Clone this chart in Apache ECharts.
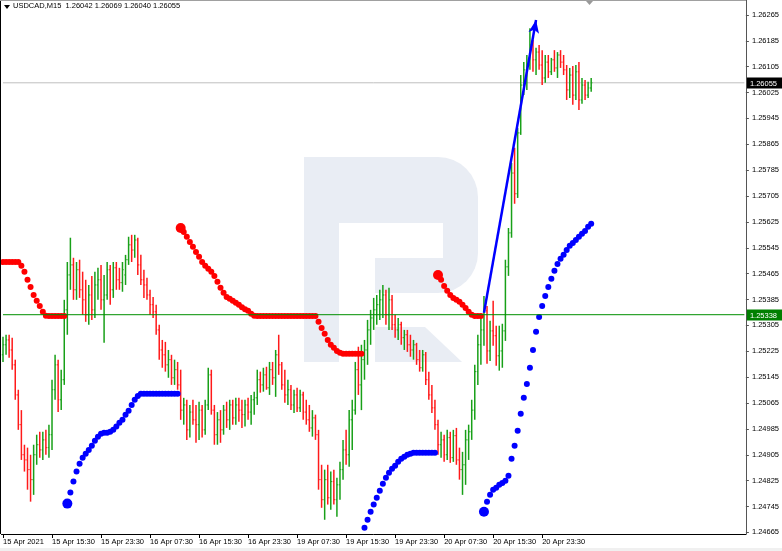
<!DOCTYPE html>
<html><head><meta charset="utf-8">
<script src="https://cdn.jsdelivr.net/npm/echarts/dist/echarts.min.js"></script>
<style>html,body{margin:0;padding:0;background:#fff}#c{width:782px;height:551px}</style>
</head><body><div id="c"></div>
<script>
// ---- data (USDCAD M15, shown as 30-min bars) ----
const tickLabels = ['15 Apr 2021','15 Apr 15:30','15 Apr 23:30','16 Apr 07:30','16 Apr 15:30','16 Apr 23:30','19 Apr 07:30','19 Apr 15:30','19 Apr 23:30','20 Apr 07:30','20 Apr 15:30','20 Apr 23:30'];
const barsPerLabel = 16;
const slotCount = 243;
const priceTicks = [1.24665,1.24745,1.24825,1.24905,1.24985,1.25065,1.25145,1.25225,1.25305,1.25385,1.25465,1.25545,1.25625,1.25705,1.25785,1.25865,1.25945,1.26025,1.26105,1.26185,1.26265];
const yMin = 1.2466, yMax = 1.26311;
const supportLevel = 1.25338;
const lastPrice = 1.26055;
const headerText = 'USDCAD,M15  1.26042 1.26069 1.26040 1.26055';

const opens = [
1.25214,1.25245,1.25260,1.25229,1.25183,1.25090,1.24998,1.24905,1.24889,1.24859,
1.24828,1.24905,1.24936,1.24920,1.24951,1.24927,1.24967,1.25106,1.25183,1.25075,
1.25137,1.25353,1.25461,1.25492,1.25415,1.25477,1.25415,1.25384,1.25338,1.25399,
1.25353,1.25430,1.25446,1.25384,1.25399,1.25477,1.25415,1.25483,1.25446,1.25437,
1.25461,1.25508,1.25554,1.25538,1.25569,1.25492,1.25446,1.25430,1.25399,1.25369,
1.25347,1.25291,1.25229,1.25214,1.25183,1.25199,1.25143,1.25168,1.25121,
1.25043,1.25059,1.24982,1.25037,1.25013,1.24998,1.25043,1.24982,1.25059,1.25152,
1.25043,1.24967,1.25013,1.24982,1.25043,1.25013,1.25059,1.25019,1.25059,1.25043,
1.25029,1.25059,1.25037,1.25075,1.25081,1.25137,1.25121,1.25152,1.25112,1.25168,
1.25143,1.25214,1.25183,1.25121,1.25090,1.25106,1.25059,1.25090,1.25050,
1.25090,1.25037,1.25013,1.24988,1.25019,1.24967,1.24828,1.24766,1.24828,1.24772,
1.24822,1.24766,1.24812,1.24859,1.24920,1.24905,1.25013,1.25043,1.25168,1.25121,
1.25199,1.25229,1.25291,1.25328,1.25353,1.25369,1.25384,1.25399,1.25338,1.25384,
1.25307,1.25291,1.25307,1.25267,1.25276,1.25245,1.25229,1.25245,1.25199,1.25174,
1.25214,1.25137,1.25090,1.25050,1.24998,1.24936,1.24951,1.24905,1.24958,1.24896,
1.24964,1.24889,1.24859,1.24874,1.24951,1.24976,1.25043,1.25162,1.25245,
1.25291,1.25350,1.25226,1.25288,1.25273,1.25211,1.25226,1.25288,1.25486,1.25591,
1.25776,1.25712,1.25900,1.26048,1.26095,1.26110,1.26172,1.26126,1.26150,1.26110,
1.26070,1.26119,1.26089,1.26126,1.26101,1.26141,1.26119,1.26095,1.26033,1.26079,
1.26017,1.26089,1.26002,1.26048,1.26017,1.26039];
const highs = [
1.25270,1.25276,1.25276,1.25267,1.25199,1.25106,1.25043,1.24936,1.24927,1.24905,
1.24936,1.24967,1.24976,1.24976,1.24982,1.24998,1.25137,1.25214,1.25199,1.25168,
1.25384,1.25501,1.25576,1.25514,1.25501,1.25508,1.25471,1.25446,1.25430,1.25458,
1.25471,1.25483,1.25492,1.25461,1.25501,1.25492,1.25501,1.25501,1.25483,1.25501,
1.25523,1.25579,1.25585,1.25585,1.25576,1.25523,1.25477,1.25452,1.25415,1.25393,
1.25369,1.25307,1.25260,1.25254,1.25229,1.25214,1.25199,1.25192,1.25168,
1.25081,1.25075,1.25059,1.25075,1.25059,1.25069,1.25059,1.25075,1.25174,1.25168,
1.25059,1.25037,1.25043,1.25059,1.25069,1.25075,1.25075,1.25081,1.25081,1.25075,
1.25075,1.25081,1.25090,1.25100,1.25168,1.25162,1.25174,1.25177,1.25192,1.25192,
1.25229,1.25276,1.25192,1.25168,1.25137,1.25121,1.25106,1.25112,1.25106,
1.25100,1.25075,1.25059,1.25043,1.25029,1.24982,1.24874,1.24859,1.24874,1.24853,
1.24859,1.24834,1.24883,1.24951,1.24982,1.25043,1.25075,1.25192,1.25239,1.25245,
1.25260,1.25322,1.25353,1.25390,1.25399,1.25415,1.25430,1.25415,1.25421,1.25399,
1.25338,1.25328,1.25316,1.25291,1.25291,1.25276,1.25260,1.25251,1.25229,1.25229,
1.25223,1.25162,1.25121,1.25075,1.25013,1.24976,1.24967,1.24982,1.24976,1.24982,
1.24988,1.24927,1.24914,1.24982,1.24998,1.25075,1.25183,1.25276,1.25328,
1.25396,1.25365,1.25319,1.25381,1.25304,1.25304,1.25310,1.25508,1.25606,1.25807,
1.25854,1.25915,1.26079,1.26119,1.26141,1.26224,1.26187,1.26163,1.26172,1.26156,
1.26141,1.26141,1.26132,1.26156,1.26150,1.26156,1.26141,1.26110,1.26101,1.26107,
1.26110,1.26119,1.26070,1.26064,1.26058,1.26070];
const lows = [
1.25192,1.25214,1.25205,1.25168,1.25075,1.24982,1.24889,1.24853,1.24797,1.24760,
1.24781,1.24874,1.24896,1.24889,1.24905,1.24896,1.24920,1.25075,1.25037,1.25043,
1.25121,1.25276,1.25415,1.25384,1.25384,1.25390,1.25338,1.25316,1.25307,1.25322,
1.25328,1.25384,1.25353,1.25251,1.25384,1.25369,1.25390,1.25415,1.25415,1.25409,
1.25430,1.25492,1.25501,1.25514,1.25461,1.25430,1.25390,1.25384,1.25338,1.25328,
1.25276,1.25199,1.25174,1.25162,1.25143,1.25121,1.25121,1.25106,1.25013,
1.24998,1.24951,1.24958,1.24998,1.24942,1.24951,1.24958,1.24967,1.25043,1.25029,
1.24936,1.24936,1.24942,1.24967,1.24988,1.24982,1.24998,1.24998,1.25007,1.24988,
1.24992,1.25013,1.24998,1.25029,1.25059,1.25097,1.25100,1.25106,1.25090,1.25121,
1.25084,1.25152,1.25106,1.25066,1.25059,1.25043,1.25034,1.25037,1.25037,
1.25013,1.24998,1.24976,1.24961,1.24951,1.24797,1.24741,1.24704,1.24751,1.24735,
1.24751,1.24713,1.24766,1.24828,1.24874,1.24868,1.24920,1.25029,1.25090,1.25043,
1.25137,1.25183,1.25245,1.25291,1.25307,1.25322,1.25328,1.25307,1.25291,1.25291,
1.25267,1.25260,1.25245,1.25229,1.25223,1.25208,1.25199,1.25183,1.25162,1.25162,
1.25121,1.25075,1.25034,1.24982,1.24905,1.24896,1.24883,1.24889,1.24880,1.24883,
1.24874,1.24828,1.24781,1.24812,1.24889,1.24951,1.25013,1.25121,1.25183,
1.25242,1.25186,1.25195,1.25242,1.25180,1.25165,1.25174,1.25257,1.25458,1.25576,
1.25681,1.25699,1.25894,1.26017,1.26033,1.26095,1.26089,1.26079,1.26095,1.26048,
1.26055,1.26070,1.26079,1.26089,1.26070,1.26101,1.26079,1.26002,1.26008,1.25987,
1.26002,1.25971,1.25990,1.26002,1.26008,1.26027];
const closes = [
1.25245,1.25260,1.25229,1.25183,1.25090,1.24998,1.24905,1.24889,1.24859,1.24828,
1.24905,1.24936,1.24920,1.24951,1.24927,1.24967,1.25106,1.25183,1.25075,1.25137,
1.25353,1.25461,1.25492,1.25415,1.25477,1.25415,1.25384,1.25338,1.25399,1.25353,
1.25430,1.25446,1.25384,1.25399,1.25477,1.25415,1.25483,1.25446,1.25437,1.25477,
1.25508,1.25554,1.25538,1.25569,1.25492,1.25446,1.25430,1.25399,1.25369,1.25347,
1.25291,1.25229,1.25214,1.25183,1.25199,1.25143,1.25168,1.25121,1.25043,
1.25059,1.24982,1.25037,1.25013,1.24998,1.25043,1.24982,1.25059,1.25152,1.25043,
1.24967,1.25013,1.24982,1.25043,1.25013,1.25059,1.25019,1.25059,1.25043,1.25029,
1.25059,1.25037,1.25075,1.25081,1.25137,1.25121,1.25152,1.25112,1.25168,1.25143,
1.25214,1.25183,1.25121,1.25090,1.25106,1.25059,1.25090,1.25050,1.25090,
1.25037,1.25013,1.24988,1.25019,1.24967,1.24828,1.24766,1.24828,1.24772,1.24822,
1.24766,1.24812,1.24859,1.24920,1.24905,1.25013,1.25043,1.25168,1.25121,1.25199,
1.25229,1.25291,1.25328,1.25353,1.25369,1.25384,1.25399,1.25338,1.25384,1.25307,
1.25291,1.25307,1.25267,1.25276,1.25245,1.25229,1.25245,1.25199,1.25174,1.25214,
1.25137,1.25090,1.25050,1.24998,1.24936,1.24951,1.24905,1.24958,1.24896,1.24964,
1.24889,1.24859,1.24874,1.24951,1.24976,1.25043,1.25162,1.25245,1.25291,
1.25350,1.25226,1.25288,1.25273,1.25211,1.25226,1.25288,1.25486,1.25591,1.25776,
1.25712,1.25900,1.26048,1.26095,1.26110,1.26172,1.26126,1.26150,1.26110,1.26070,
1.26119,1.26089,1.26126,1.26101,1.26141,1.26119,1.26095,1.26033,1.26079,1.26017,
1.26089,1.26002,1.26048,1.26017,1.26039,1.26055];

// trailing-stop dots (red above price, blue below price): start bar + values
const redSeg1Start = 0;
const redSeg1 = [1.25501,1.25501,1.25501,1.25501,1.25501,1.25501,1.25489,1.25471,1.25446,1.25424,1.25399,1.25381,1.25365,1.25347,1.25335,1.25334,1.25334,1.25334,1.25334,1.25334,1.25334];
const blueSeg1Start = 21;
const blueSeg1 = [1.24754,1.24788,1.24822,1.24853,1.24877,1.24896,1.24908,1.24920,1.24933,1.24948,1.24961,1.24970,1.24973,1.24973,1.24976,1.24982,1.24992,1.25004,1.25013,1.25029,1.25041,1.25059,1.25075,1.25087,1.25094,1.25094,1.25094,1.25094,1.25094,1.25094,1.25094,1.25094,1.25094,1.25094,1.25094,1.25094,1.25094];
const redSeg2Start = 58;
const redSeg2 = [1.25606,1.25594,1.25579,1.25563,1.25548,1.25532,1.25517,1.25501,1.25489,1.25480,1.25471,1.25458,1.25440,1.25421,1.25406,1.25393,1.25387,1.25381,1.25375,1.25369,1.25361,1.25355,1.25350,1.25341,1.25335,
1.25334,1.25334,1.25334,1.25334,1.25334,1.25334,1.25334,1.25334,1.25334,1.25334,1.25334,1.25334,1.25334,1.25334,1.25334,1.25334,1.25334,1.25334,1.25334,1.25334,
1.25316,1.25297,1.25279,1.25260,1.25245,1.25236,1.25226,1.25220,1.25217,1.25217,1.25217,1.25217,1.25217,1.25217,1.25217];
const blueSeg2Start = 118;
const blueSeg2 = [1.24679,1.24704,1.24729,1.24751,1.24772,1.24794,1.24815,1.24834,1.24849,1.24862,1.24871,1.24883,1.24893,1.24899,1.24905,1.24908,1.24911,1.24911,1.24911,1.24911,1.24911,1.24911,1.24911,1.24911];
const redSeg3Start = 142;
const redSeg3 = [1.25461,1.25446,1.25427,1.25412,1.25399,1.25390,1.25384,1.25378,1.25369,1.25359,1.25347,1.25338,1.25334,1.25334,1.25334];
const blueSeg3Start = 157;
const blueSeg3 = [1.24729,1.24760,1.24781,1.24797,1.24803,1.24812,1.24818,1.24825,1.24840,1.24893,1.24933,1.24979,1.25032,1.25081,1.25124,1.25174,1.25229,1.25285,1.25331,1.25365,1.25396,1.25424,1.25449,1.25474,1.25495,1.25511,1.25523,1.25538,1.25551,1.25560,1.25569,1.25579,1.25588,1.25597,1.25610,1.25619];

// trend arrow (bar index, price)
const arrowFrom = [157, 1.25344];
const arrowTo = [174, 1.26249];

// ---- chart ----
const FONT = 'Liberation Sans';
const slots = Array.from({length: slotCount}, (_, i) => String(i));
const ohlc = opens.map((o, i) => [i, o, highs[i], lows[i], closes[i]]);
const upColor = '#18a018', downColor = '#ff1a1a';
const RED = '#ff0000', BLUE = '#0000ff';
const isLabelSlot = (i) => i % barsPerLabel === 0 && i / barsPerLabel < tickLabels.length;

function dotSeries(start, vals, color, bigStart) {
  return {
    type: 'scatter', z: 4,
    data: vals.map((v, k) => [start + k, v]),
    symbol: 'circle',
    symbolSize: (v, p) => (bigStart && p.dataIndex === 0 ? 10 : 6),
    itemStyle: { color: color, opacity: 1 },
    emphasis: { disabled: true },
    silent: true
  };
}

// horizontal price level (drawn as a line series across all slots) + box on the price scale
function levelLine(value, lineColor, z) {
  return {
    type: 'line', z: z, silent: true, symbol: 'none',
    data: [[0, value], [slotCount - 1, value]],
    lineStyle: { color: lineColor, width: 1, type: 'solid' },
    itemStyle: { color: lineColor },
    emphasis: { disabled: true }
  };
}
function levelBox(value, boxColor) {
  return {
    type: 'custom', z: 7, clip: false, silent: true,
    data: [[0, value]],
    encode: { x: 0, y: 1 },
    renderItem: function (params, api) {
      const cs = params.coordSys;
      const y = Math.round(api.coord([0, api.value(1)])[1]) + 0.5;
      const right = cs.x + cs.width;
      return { type: 'group', children: [
        { type: 'rect', shape: { x: right + 1, y: y - 6, width: 36, height: 11 }, style: { fill: boxColor } },
        { type: 'text', style: { x: right + 4, y: y, text: value.toFixed(5), fill: '#fff', font: '7.5px "' + FONT + '"', verticalAlign: 'middle', align: 'left' } }
      ] };
    }
  };
}

const chart = echarts.init(document.getElementById('c'), null, { renderer: 'canvas' });
chart.setOption({
  animation: false,
  backgroundColor: '#ffffff',
  grid: { left: 0, right: 36, top: 0, bottom: 17, containLabel: false },
  xAxis: {
    type: 'category', data: slots, boundaryGap: true,
    axisLine: { show: true, lineStyle: { color: '#000', width: 1 } },
    axisTick: { show: true, alignWithLabel: true, interval: isLabelSlot, length: 4, lineStyle: { color: '#000' } },
    axisLabel: {
      interval: isLabelSlot, align: 'left', margin: 4,
      formatter: (v, i) => tickLabels[Math.round(Number(v) / barsPerLabel)] || '',
      fontSize: 7.5, color: '#000', fontFamily: FONT
    },
    splitLine: { show: false }
  },
  yAxis: {
    type: 'value', position: 'right', min: yMin, max: yMax, scale: true,
    axisLine: { show: true, lineStyle: { color: '#555', width: 1 } },
    axisTick: { show: true, customValues: priceTicks, length: 3, lineStyle: { color: '#555' } },
    axisLabel: { customValues: priceTicks, formatter: (v) => v.toFixed(5), margin: 6, fontSize: 7.5, color: '#000', fontFamily: FONT },
    splitLine: { show: false }
  },
  graphic: [
    // watermark logo
    { type: 'rect', z: -10, shape: { x: 304, y: 157, width: 174, height: 136, r: [0, 40, 40, 0] }, style: { fill: '#e9edf4' }, silent: true },
    { type: 'rect', z: -9, shape: { x: 339, y: 223, width: 104, height: 35 }, style: { fill: '#ffffff' }, silent: true },
    { type: 'rect', z: -9, shape: { x: 339, y: 258, width: 36, height: 35 }, style: { fill: '#ffffff' }, silent: true },
    { type: 'rect', z: -8, shape: { x: 304, y: 157, width: 35, height: 205 }, style: { fill: '#e9edf4' }, silent: true },
    { type: 'polygon', z: -8, shape: { points: [[375, 327], [425, 327], [462, 362], [375, 362]] }, style: { fill: '#e9edf4' }, silent: true },
    // frame lines
    { type: 'line', z: 50, shape: { x1: 0.5, y1: 0, x2: 0.5, y2: 534 }, style: { stroke: '#000', lineWidth: 1 }, silent: true },
    { type: 'line', z: 50, shape: { x1: 0, y1: 0.5, x2: 746, y2: 0.5 }, style: { stroke: '#a0a0a0', lineWidth: 1 }, silent: true },
    { type: 'rect', z: 50, shape: { x: 0, y: 548, width: 782, height: 3 }, style: { fill: '#f0f0f0' }, silent: true },
    // header
    { type: 'polygon', z: 60, shape: { points: [[4, 5], [10, 5], [7, 9]] }, style: { fill: '#000' }, silent: true },
    { type: 'text', z: 60, left: 13, top: 2, style: { text: headerText, fontSize: 7.5, fontFamily: FONT, fill: '#000' }, silent: true },
    { type: 'polygon', z: 60, shape: { points: [[586, 1], [593, 1], [589.5, 5]] }, style: { fill: '#999' }, silent: true }
  ],
  series: [
    levelLine(lastPrice, '#c0c0c0', 1),
    levelBox(lastPrice, '#000000'),
    {
      type: 'custom', z: 3, clip: true,
      data: ohlc,
      encode: { x: 0, y: [1, 2, 3, 4] },
      renderItem: function (params, api) {
        const i = api.value(0), o = api.value(1), h = api.value(2), l = api.value(3), c = api.value(4);
        const pH = api.coord([i, h]), pL = api.coord([i, l]), pO = api.coord([i, o]), pC = api.coord([i, c]);
        const x = pH[0];
        const color = c >= o ? upColor : downColor;
        const st = { stroke: color, lineWidth: 1 };
        return { type: 'group', children: [
          { type: 'line', shape: { x1: x, y1: pH[1], x2: x, y2: pL[1] }, style: { stroke: color, lineWidth: 1.5 } },
          { type: 'line', shape: { x1: x - 1.2, y1: pO[1], x2: x, y2: pO[1] }, style: st },
          { type: 'line', shape: { x1: x, y1: pC[1], x2: x + 1.2, y2: pC[1] }, style: st }
        ] };
      },
      silent: true
    },
    levelLine(supportLevel, '#008f00', 5),
    levelBox(supportLevel, '#008000'),
    dotSeries(redSeg1Start, redSeg1, RED, false),
    dotSeries(blueSeg1Start, blueSeg1, BLUE, true),
    dotSeries(redSeg2Start, redSeg2, RED, true),
    dotSeries(blueSeg2Start, blueSeg2, BLUE, false),
    dotSeries(redSeg3Start, redSeg3, RED, true),
    dotSeries(blueSeg3Start, blueSeg3, BLUE, true),
    {
      type: 'line', data: [], z: 6, silent: true,
      markLine: {
        silent: true, animation: false, symbol: ['none', 'arrow'], symbolSize: [8, 13],
        lineStyle: { color: BLUE, width: 2.5, type: 'solid' },
        label: { show: false },
        data: [[{ coord: arrowFrom }, { coord: arrowTo }]]
      }
    }
  ]
});
</script>
</body></html>
